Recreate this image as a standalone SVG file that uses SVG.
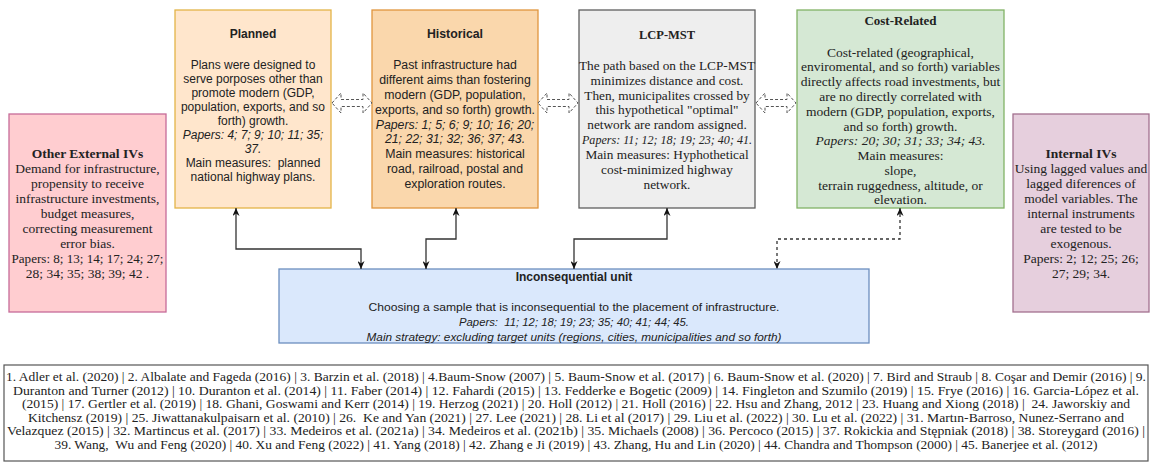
<svg xmlns="http://www.w3.org/2000/svg" width="1153" height="464" viewBox="0 0 1153 464">
<style>
.sans{font-family:"Liberation Sans",Arial,sans-serif;fill:#222;text-anchor:middle}
.serif{font-family:"Liberation Serif","Times New Roman",serif;fill:#222;text-anchor:middle}
.b{font-weight:bold}
.i{font-style:italic}
.conn{fill:none;stroke:#333;stroke-width:1.3}
.dash{stroke-dasharray:3 3}
.blk{fill:#fff;stroke:#555;stroke-width:1;stroke-dasharray:3 2}
</style>
<defs>
<marker id="ah" viewBox="0 0 10 10" refX="10" refY="5" markerWidth="8" markerHeight="7" preserveAspectRatio="none" markerUnits="userSpaceOnUse" orient="auto-start-reverse">
<path d="M0,0 L10,5 L0,10 L3,5 Z" fill="#111"/>
</marker>
</defs>
<rect width="1153" height="464" fill="#fff"/>

<g id="other-external">
<rect x="9" y="114" width="157" height="198" fill="#ffcdd0" stroke="#c76b98" stroke-width="1.3"/>
<g class="serif" font-size="13.5">
<text x="87.5" y="157.5" class="b">Other External IVs</text>
<text x="87.5" y="173.4">Demand for infrastructure,</text>
<text x="87.5" y="188.3">propensity to receive</text>
<text x="87.5" y="203.2">infrastructure investments,</text>
<text x="87.5" y="218.1">budget measures,</text>
<text x="87.5" y="233">correcting measurement</text>
<text x="87.5" y="247.9">error bias.</text>
<text x="87.5" y="262.8" textLength="152" lengthAdjust="spacingAndGlyphs">Papers: 8; 13; 14; 17; 24; 27;</text>
<text x="87.5" y="277.7">28; 34; 35; 38; 39; 42 .</text>
</g>
</g>

<g id="planned">
<rect x="175" y="10" width="156" height="198" fill="#ffe6cc" stroke="#e3b448" stroke-width="1.3"/>
<g class="sans" font-size="12">
<text x="253" y="38" class="b">Planned</text>
<text x="253" y="69">Plans were designed to</text>
<text x="253" y="83">serve porposes other than</text>
<text x="253" y="97">promote modern (GDP,</text>
<text x="253" y="111">population, exports, and so</text>
<text x="253" y="124.5">forth) growth.</text>
<text x="253" y="138.5" class="i">Papers: 4; 7; 9; 10; 11; 35;</text>
<text x="253" y="152.5" class="i">37.</text>
<text x="253" y="166.5">Main measures: &#160;planned</text>
<text x="253" y="180.5">national highway plans.</text>
</g>
</g>

<g id="historical">
<rect x="372" y="10" width="166" height="198" fill="#fad7ac" stroke="#e0963e" stroke-width="1.3"/>
<g class="sans" font-size="12.3">
<text x="455" y="38" class="b">Historical</text>
<text x="455" y="69.3">Past infrastructure had</text>
<text x="455" y="84.1">different aims than fostering</text>
<text x="455" y="98.9">modern (GDP, population,</text>
<text x="455" y="113.7">exports, and so forth) growth.</text>
<text x="455" y="128.5" class="i">Papers: 1; 5; 6; 9; 10; 16; 20;</text>
<text x="455" y="143.3" class="i">21; 22; 31; 32; 36; 37; 43.</text>
<text x="455" y="158.1">Main measures: historical</text>
<text x="455" y="172.9">road, railroad, postal and</text>
<text x="455" y="187.7">exploration routes.</text>
</g>
</g>

<g id="lcp-mst">
<rect x="579" y="10" width="176" height="198" fill="#eeeeee" stroke="#5f5f5f" stroke-width="1.3"/>
<g class="serif" font-size="13.3">
<text x="667" y="38.5" class="b" font-size="12.5">LCP-MST</text>
<text x="667" y="69.5">The path based on the LCP-MST</text>
<text x="667" y="84.5">minimizes distance and cost.</text>
<text x="667" y="99.5">Then, municipalites crossed by</text>
<text x="667" y="114">this hypothetical "optimal"</text>
<text x="667" y="128.5">network are random assigned.</text>
<text x="667" y="143.5" class="i" textLength="170" lengthAdjust="spacingAndGlyphs">Papers: 11; 12; 18; 19; 23; 40; 41.</text>
<text x="667" y="158.5">Main measures: Hyphothetical</text>
<text x="667" y="173.5">cost-minimized highway</text>
<text x="667" y="188.5">network.</text>
</g>
</g>

<g id="cost-related">
<rect x="797" y="10" width="207" height="198" fill="#d5e8d4" stroke="#82b366" stroke-width="1.3"/>
<g class="serif" font-size="13.5">
<text x="900.5" y="25" class="b" font-size="13">Cost-Related</text>
<text x="900.5" y="56.5">Cost-related (geographical,</text>
<text x="900.5" y="71.3">enviromental, and so forth) variables</text>
<text x="900.5" y="86.1">directly affects road investments, but</text>
<text x="900.5" y="100.9">are no directly correlated with</text>
<text x="900.5" y="115.7">modern (GDP, population, exports,</text>
<text x="900.5" y="130.5">and so forth) growth.</text>
<text x="900.5" y="145.3" class="i">Papers: 20; 30; 31; 33; 34; 43.</text>
<text x="900.5" y="160.1">Main measures:</text>
<text x="900.5" y="174.9">slope,</text>
<text x="900.5" y="189.7">terrain ruggedness, altitude, or</text>
<text x="900.5" y="204.3">elevation.</text>
</g>
</g>

<g id="internal">
<rect x="1013" y="114" width="136" height="198" fill="#e6cfdd" stroke="#a3708f" stroke-width="1.3"/>
<g class="serif" font-size="13.5">
<text x="1081" y="157.5" class="b">Internal IVs</text>
<text x="1081" y="173.4">Using lagged values and</text>
<text x="1081" y="188.3">lagged diferences of</text>
<text x="1081" y="203.2">model variables. The</text>
<text x="1081" y="218.1">internal instruments</text>
<text x="1081" y="233">are tested to be</text>
<text x="1081" y="247.9">exogenous.</text>
<text x="1081" y="262.8">Papers: 2; 12; 25; 26;</text>
<text x="1081" y="277.7">27; 29; 34.</text>
</g>
</g>

<g id="inconsequential">
<rect x="279" y="269" width="590" height="74" fill="#dae8fc" stroke="#6c8ebf" stroke-width="1.3"/>
<g class="sans">
<text x="574" y="281" class="b" font-size="12">Inconsequential unit</text>
<text x="574" y="311" font-size="11" textLength="411" lengthAdjust="spacingAndGlyphs">Choosing a sample that is inconsequential to the placement of infrastructure.</text>
<text x="574" y="326" font-size="11" class="i" textLength="230" lengthAdjust="spacingAndGlyphs">Papers: &#160;11; 12; 18; 19; 23; 35; 40; 41; 44; 45.</text>
<text x="574" y="341" font-size="11" class="i" textLength="415" lengthAdjust="spacingAndGlyphs">Main strategy: excluding target units (regions, cities, municipalities and so forth)</text>
</g>
</g>

<g id="references">
<rect x="4" y="365" width="1144" height="96" fill="#fff" stroke="#555" stroke-width="1.2"/>
<g class="serif" font-size="12">
<text x="576" y="381" textLength="1140" lengthAdjust="spacingAndGlyphs">1. Adler et al. (2020) | 2. Albalate and Fageda (2016) | 3. Barzin et al. (2018) | 4.Baum-Snow (2007) | 5. Baum-Snow et al. (2017) | 6. Baum-Snow et al. (2020) | 7. Bird and Straub | 8. Coşar and Demir (2016) | 9.</text>
<text x="576" y="394.6" textLength="1126" lengthAdjust="spacingAndGlyphs">Duranton and Turner (2012) | 10. Duranton et al. (2014) | 11. Faber (2014) | 12. Fahardi (2015) | 13. Fedderke e Bogetic (2009) | 14. Fingleton and Szumilo (2019) | 15. Frye (2016) | 16. Garcia-López et al.</text>
<text x="576" y="408.2" textLength="1108" lengthAdjust="spacingAndGlyphs">(2015) | 17. Gertler et al. (2019) | 18. Ghani, Goswami and Kerr (2014) | 19. Herzog (2021) | 20. Holl (2012) | 21. Holl (2016) | 22. Hsu and Zhang, 2012 | 23. Huang and Xiong (2018) | &#160;24. Jaworskiy and</text>
<text x="576" y="421.8" textLength="1096" lengthAdjust="spacingAndGlyphs">Kitchensz (2019) | 25. Jiwattanakulpaisarn et al. (2010) | 26. &#160;Ke and Yan (2021) | 27. Lee (2021) | 28. Li et al (2017) | 29. Liu et al. (2022) | 30. Lu et al. (2022) | 31. Martın-Barroso, Nunez-Serrano and</text>
<text x="576" y="435.4" textLength="1138" lengthAdjust="spacingAndGlyphs">Velazquez (2015) | 32. Martincus et al. (2017) | 33. Medeiros et al. (2021a) | 34. Medeiros et al. (2021b) | 35. Michaels (2008) | 36. Percoco (2015) | 37. Rokickia and Stępniak (2018) | 38. Storeygard (2016) |</text>
<text x="576" y="449" textLength="1043" lengthAdjust="spacingAndGlyphs">39. Wang, &#160;Wu and Feng (2020) | 40. Xu and Feng (2022) | 41. Yang (2018) | 42. Zhang e Ji (2019) | 43. Zhang, Hu and Lin (2020) | 44. Chandra and Thompson (2000) | 45. Banerjee et al. (2012)</text>
</g>
</g>

<g id="connectors">
<polygon class="blk" points="332,103 341,93 341,99.5 363,99.5 363,93 372,103 363,113 363,106.5 341,106.5 341,113"/>
<polygon class="blk" points="538,103 547,93 547,99.5 569,99.5 569,93 578,103 569,113 569,106.5 547,106.5 547,113"/>
<polygon class="blk" points="756,103 765,93 765,99.5 787,99.5 787,93 796,103 787,113 787,106.5 765,106.5 765,113"/>
<path class="conn" d="M236,208 V249 H361 V269" marker-start="url(#ah)" marker-end="url(#ah)"/>
<path class="conn" d="M456,208 V239 H426 V269" marker-start="url(#ah)" marker-end="url(#ah)"/>
<path class="conn" d="M667,208 V239 H574 V269" marker-start="url(#ah)" marker-end="url(#ah)"/>
<path class="conn dash" d="M900,208 V239 H777 V269" marker-start="url(#ah)" marker-end="url(#ah)"/>
</g>
</svg>
